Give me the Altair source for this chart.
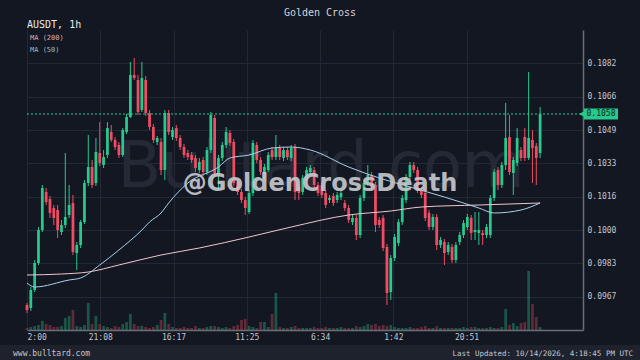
import altair as alt
import pandas as pd

# ---------------- data ----------------
opens = [0.09625, 0.09610, 0.09700, 0.09835, 0.10000, 0.10190, 0.10155, 0.10110, 0.10100, 0.09990,
         0.10025, 0.10075, 0.10135, 0.09885, 0.09925, 0.10040, 0.10235, 0.10315, 0.10235, 0.10385,
         0.10325, 0.10375, 0.10490, 0.10450, 0.10425, 0.10375, 0.10490, 0.10565, 0.10775, 0.10750,
         0.10600, 0.10750, 0.10585, 0.10515, 0.10440, 0.10440, 0.10300, 0.10585, 0.10465, 0.10510,
         0.10460, 0.10415, 0.10385, 0.10375, 0.10360, 0.10300, 0.10350, 0.10290, 0.10400, 0.10560,
         0.10275, 0.10360, 0.10425, 0.10485, 0.10440, 0.10240, 0.10190, 0.10150, 0.10090, 0.10185,
         0.10425, 0.10350, 0.10260, 0.10300, 0.10400, 0.10365, 0.10410, 0.10360, 0.10400, 0.10360,
         0.10415, 0.10215, 0.10190, 0.10250, 0.10290, 0.10300, 0.10225, 0.10225, 0.10185, 0.10150,
         0.10170, 0.10150, 0.10165, 0.10135, 0.10110, 0.10040, 0.10060, 0.09975, 0.10160, 0.10235,
         0.10275, 0.10225, 0.10050, 0.10060, 0.09915, 0.09690, 0.09860, 0.09935, 0.10040, 0.10150,
         0.10265, 0.10325, 0.10300, 0.10200, 0.10185, 0.10085, 0.10015, 0.10065, 0.09925, 0.09940,
         0.09890, 0.09915, 0.09850, 0.09940, 0.09975, 0.10015, 0.10060, 0.09990, 0.09985, 0.09985,
         0.09975, 0.09975, 0.10160, 0.10300, 0.10225, 0.10325, 0.10465, 0.10285, 0.10335, 0.10400,
         0.10465, 0.10360, 0.10450, 0.10420, 0.10385]
highs = [0.09635, 0.09715, 0.09850, 0.10015, 0.10225, 0.10210, 0.10170, 0.10125, 0.10125, 0.10050,
         0.10385, 0.10225, 0.10175, 0.09940, 0.10050, 0.10250, 0.10475, 0.10350, 0.10460, 0.10540,
         0.10400, 0.10540, 0.10525, 0.10465, 0.10440, 0.10510, 0.10580, 0.10840, 0.10860, 0.10775,
         0.10840, 0.10770, 0.10600, 0.10530, 0.10470, 0.10460, 0.10600, 0.10600, 0.10515, 0.10525,
         0.10475, 0.10430, 0.10400, 0.10390, 0.10375, 0.10360, 0.10365, 0.10415, 0.10590, 0.10575,
         0.10375, 0.10440, 0.10515, 0.10500, 0.10455, 0.10255, 0.10205, 0.10165, 0.10200, 0.10450,
         0.10440, 0.10365, 0.10330, 0.10390, 0.10415, 0.10475, 0.10425, 0.10415, 0.10415, 0.10425,
         0.10430, 0.10230, 0.10275, 0.10315, 0.10325, 0.10315, 0.10240, 0.10240, 0.10200, 0.10175,
         0.10185, 0.10190, 0.10200, 0.10150, 0.10125, 0.10075, 0.10075, 0.10175, 0.10250, 0.10325,
         0.10290, 0.10240, 0.10065, 0.10075, 0.09930, 0.09875, 0.09980, 0.10055, 0.10175, 0.10280,
         0.10340, 0.10340, 0.10315, 0.10215, 0.10200, 0.10100, 0.10080, 0.10080, 0.09965, 0.09955,
         0.09940, 0.09930, 0.09940, 0.09990, 0.10050, 0.10080, 0.10075, 0.10090, 0.10090, 0.10000,
         0.10030, 0.10175, 0.10305, 0.10315, 0.10340, 0.10635, 0.10575, 0.10365, 0.10510, 0.10415,
         0.10510, 0.10790, 0.10500, 0.10435, 0.10615]
lows = [0.09585, 0.09595, 0.09690, 0.09825, 0.09990, 0.10125, 0.10060, 0.10025, 0.09960, 0.09975,
        0.10010, 0.10060, 0.09875, 0.09800, 0.09910, 0.10030, 0.10220, 0.10210, 0.10220, 0.10320,
        0.10310, 0.10360, 0.10440, 0.10400, 0.10360, 0.10365, 0.10480, 0.10560, 0.10750, 0.10575,
        0.10590, 0.10570, 0.10500, 0.10435, 0.10425, 0.10275, 0.10250, 0.10475, 0.10450, 0.10445,
        0.10400, 0.10360, 0.10350, 0.10335, 0.10290, 0.10285, 0.10270, 0.10275, 0.10385, 0.10270,
        0.10200, 0.10345, 0.10410, 0.10420, 0.10220, 0.10175, 0.10135, 0.10075, 0.10080, 0.10170,
        0.10335, 0.10275, 0.10250, 0.10290, 0.10350, 0.10350, 0.10350, 0.10345, 0.10350, 0.10345,
        0.10150, 0.10150, 0.10175, 0.10235, 0.10275, 0.10210, 0.10170, 0.10160, 0.10110, 0.10135,
        0.10120, 0.10135, 0.10150, 0.10095, 0.10035, 0.10025, 0.09950, 0.09960, 0.10145, 0.10220,
        0.10200, 0.09990, 0.10010, 0.09895, 0.09625, 0.09650, 0.09845, 0.09920, 0.10025, 0.10135,
        0.10250, 0.10285, 0.10185, 0.10160, 0.10045, 0.10000, 0.10000, 0.09900, 0.09910, 0.09825,
        0.09875, 0.09835, 0.09835, 0.09925, 0.09960, 0.10000, 0.09950, 0.09950, 0.09925, 0.09925,
        0.09960, 0.09960, 0.10145, 0.10200, 0.10210, 0.10300, 0.10275, 0.10175, 0.10320, 0.10345,
        0.10345, 0.10350, 0.10235, 0.10225, 0.10360]
closes = [0.09600, 0.09700, 0.09835, 0.10000, 0.10210, 0.10140, 0.10085, 0.10060, 0.10000, 0.10025,
          0.10065, 0.10125, 0.09890, 0.09925, 0.10040, 0.10235, 0.10315, 0.10225, 0.10390, 0.10335,
          0.10365, 0.10510, 0.10450, 0.10415, 0.10375, 0.10500, 0.10565, 0.10775, 0.10760, 0.10590,
          0.10760, 0.10585, 0.10515, 0.10450, 0.10460, 0.10300, 0.10585, 0.10490, 0.10500, 0.10460,
          0.10415, 0.10375, 0.10365, 0.10350, 0.10310, 0.10340, 0.10290, 0.10400, 0.10575, 0.10285,
          0.10360, 0.10425, 0.10490, 0.10435, 0.10235, 0.10190, 0.10150, 0.10110, 0.10185, 0.10435,
          0.10350, 0.10290, 0.10315, 0.10375, 0.10365, 0.10410, 0.10365, 0.10400, 0.10365, 0.10410,
          0.10190, 0.10185, 0.10260, 0.10300, 0.10310, 0.10225, 0.10185, 0.10175, 0.10125, 0.10160,
          0.10135, 0.10175, 0.10185, 0.10110, 0.10050, 0.10060, 0.09975, 0.10160, 0.10235, 0.10275,
          0.10215, 0.10025, 0.10025, 0.09910, 0.09685, 0.09860, 0.09965, 0.10040, 0.10160, 0.10265,
          0.10325, 0.10300, 0.10200, 0.10175, 0.10060, 0.10015, 0.10065, 0.09925, 0.09950, 0.09885,
          0.09925, 0.09850, 0.09925, 0.09975, 0.10035, 0.10065, 0.09985, 0.10000, 0.10000, 0.09975,
          0.10015, 0.10160, 0.10290, 0.10225, 0.10325, 0.10460, 0.10290, 0.10350, 0.10460, 0.10360,
          0.10360, 0.10460, 0.10410, 0.10360, 0.10580]
volumes = [2000, 3000, 4000, 5000, 9000, 6000, 5000, 3000, 3000, 4000,
           12000, 14000, 20000, 4000, 3000, 5000, 27000, 6000, 14000, 6000,
           4000, 3000, 2000, 4000, 3000, 6000, 8000, 16000, 6000, 4000,
           4000, 3000, 2000, 3000, 5000, 10000, 17000, 6000, 3000, 2000,
           2000, 3000, 2000, 2000, 4000, 2000, 2000, 3000, 4000, 4000,
           3000, 2000, 3000, 2000, 4000, 5000, 10000, 11000, 4000, 3000,
           2000, 8000, 8000, 3000, 16000, 37000, 3000, 2000, 2000, 3000,
           4000, 2000, 2000, 2000, 2000, 3000, 2000, 2000, 3000, 2000,
           2000, 2000, 3000, 2000, 2000, 2000, 4000, 3000, 4000, 6000,
           5000, 6000, 4000, 5000, 4000, 5000, 3000, 2000, 2000, 2000,
           3000, 2000, 2000, 3000, 4000, 2000, 2000, 4000, 2000, 2000,
           2000, 2000, 2000, 2000, 3000, 2000, 3000, 3000, 2000, 2000,
           2000, 3000, 2000, 2000, 3000, 21000, 5000, 7000, 4000, 7000,
           8000, 59000, 26000, 13000, 3000]

ma200_idx = [0, 9, 16, 24, 35, 45, 58, 69, 84, 95, 103, 118, 134]
ma200_val = [0.09775, 0.09780, 0.09790, 0.09825, 0.09875, 0.09910, 0.09965, 0.10015,
             0.10075, 0.10095, 0.10115, 0.10125, 0.10135]
ma50_idx = [0, 2, 11, 14, 19, 24, 30, 32, 35, 37, 42, 50, 53, 58, 64, 69, 74, 84, 92,
            100, 109, 118, 122, 129, 134]
ma50_val = [0.09735, 0.09715, 0.09750, 0.09760, 0.09825, 0.09900, 0.10000, 0.10040, 0.10085,
            0.10135, 0.10235, 0.10315, 0.10360, 0.10375, 0.10410, 0.10415, 0.10400, 0.10315,
            0.10260, 0.10215, 0.10165, 0.10110, 0.10085, 0.10100, 0.10135]

x_tick_pos = [0, 19.1333, 38.2667, 57.4, 76.5333, 95.6667, 114.8]
x_tick_labels = ["2:00", "21:08", "16:17", "11:25", "6:34", "1:42", "20:51"]
y_tick_pos = [0.0966667, 0.0983333, 0.1, 0.1016667, 0.1033333, 0.105, 0.1066667, 0.1083333]
y_tick_labels = ["0.0967", "0.0983", "0.1000", "0.1016", "0.1033", "0.1049", "0.1066", "0.1082"]
last_price = 0.1058

# ---------------- style ----------------
BG = "#131722"
GRID = "#232835"
AXIS = "#6a6e79"
LAB = "#c3c6ce"
GREEN = "#27c98d"
RED = "#ef4d63"
MONO = "DejaVu Sans Mono"

df = pd.DataFrame({"idx": list(range(len(opens))), "open": opens, "high": highs,
                   "low": lows, "close": closes, "vol": volumes})
ma200 = pd.DataFrame({"idx": ma200_idx, "ma": ma200_val})
ma50 = pd.DataFrame({"idx": ma50_idx, "ma": ma50_val})
one = pd.DataFrame({"t": [""]})

xs = alt.Scale(domain=[0, 145.2], nice=False, zero=False)
ys = alt.Scale(domain=[0.095, 0.110], nice=False, zero=False)

x_lab_expr = "[" + ",".join("'%s'" % s for s in x_tick_labels) + "][round(datum.value / 19.1333)]"
y_lab_expr = "[" + ",".join("'%s'" % s for s in y_tick_labels) + "][round((datum.value - 0.095) / 0.0016667) - 1]"

xaxis = alt.Axis(values=x_tick_pos, labelExpr=x_lab_expr, title=None, grid=True,
                 gridColor=GRID, domainColor=AXIS, domainWidth=1.5, ticks=False,
                 labelFont=MONO, labelFontSize=8, labelColor=LAB, labelPadding=3)
yaxis = alt.Axis(orient="right", values=y_tick_pos, labelExpr=y_lab_expr, title=None,
                 grid=True, gridColor=GRID, domainColor=AXIS, domainWidth=1.5, ticks=False,
                 labelFont=MONO, labelFontSize=8, labelColor=LAB, labelPadding=4)


def X(field):
    return alt.X(field, scale=xs, axis=xaxis)


def Y(field):
    return alt.Y(field, scale=ys, axis=yaxis)


color = alt.Color("dir:N", scale=alt.Scale(domain=["up", "down"], range=[GREEN, RED]), legend=None)

base = alt.Chart(df).transform_calculate(
    dir="datum.close >= datum.open ? 'up' : 'down'",
    x0="datum.idx - 0.36",
    x1="datum.idx + 0.36",
)

wicks = base.mark_rule(strokeWidth=1).encode(
    x=X("idx:Q"), y=Y("low:Q"), y2="high:Q", color=color)
bodies = base.mark_rect().encode(
    x=X("x0:Q"), x2="x1:Q", y=Y("open:Q"), y2="close:Q", color=color)
ma200_line = alt.Chart(ma200).mark_line(color="#efc6cf", strokeWidth=1, interpolate="monotone").encode(
    x=X("idx:Q"), y=Y("ma:Q"))
ma50_line = alt.Chart(ma50).mark_line(color="#a8d0ea", strokeWidth=1, interpolate="monotone").encode(
    x=X("idx:Q"), y=Y("ma:Q"))

price_df = pd.DataFrame({"price": [last_price]})
pbase = alt.Chart(price_df).transform_calculate(
    ptxt="format(datum.price, '.4f')",
    phi="datum.price + 0.00028",
    plo="datum.price - 0.00028",
)
price_line = pbase.mark_rule(color=GREEN, strokeWidth=1, strokeDash=[2, 2]).encode(
    y=Y("price:Q"), x=alt.value(0), x2=alt.value(556))
price_box = pbase.mark_rect(color=GREEN).encode(
    y=Y("plo:Q"), y2="phi:Q", x=alt.value(557), x2=alt.value(591))
price_arrow = pbase.mark_point(shape="triangle-left", filled=True, size=45, color=GREEN, opacity=1).encode(
    y=Y("price:Q"), x=alt.value(555))
price_text = pbase.mark_text(font=MONO, fontSize=8, color="#0d1f18", align="center", baseline="middle").encode(
    y=Y("price:Q"), x=alt.value(574), text="ptxt:N")

price_layer = alt.layer(wicks, bodies, ma200_line, ma50_line, price_line, price_box,
                        price_arrow, price_text)

volume = base.mark_rect(opacity=0.35).encode(
    x=X("x0:Q"),
    x2="x1:Q",
    y=alt.Y("vol:Q", scale=alt.Scale(domain=[0, 300000], zero=True, nice=False), axis=None),
    y2=alt.datum(0),
    color=color,
)


def txt(s, x, y, size, col, font=MONO, align="left", weight="normal", opacity=1.0):
    return alt.Chart(pd.DataFrame({"t": [s]})).mark_text(
        font=font, fontSize=size, color=col, align=align, baseline="alphabetic",
        fontWeight=weight, opacity=opacity).encode(text="t:N", x=alt.value(x), y=alt.value(y))


watermark = txt("Bulltard.com", 294, 157, 64, "#242935", font="DejaVu Sans", align="center")
handle = txt("@GoldenCrossDeath", 293, 161, 24, "#c4c6cc", font="DejaVu Sans",
             align="center", weight="bold", opacity=0.92)

footer = alt.Chart(one).mark_rect(color="#1e222d").encode(
    x=alt.value(-27), x2=alt.value(613), y=alt.value(315), y2=alt.value(330))

title = txt("Golden Cross", 293, -14, 10, "#d1d4dc", align="center")
symbol = txt("AUSDT, 1h", 0, -2, 10, "#e8eaef")
leg200 = txt("MA (200)", 3, 10, 7, "#d9aab6")
leg50 = txt("MA (50)", 3, 22, 7, "#8fbbd6")
site = txt("www.bulltard.com", -14, 326, 8, "#c3c6ce")
updated = txt("Last Updated: 10/14/2026, 4:18:45 PM UTC", 606, 326, 7.5, "#c3c6ce", align="right")

chart = alt.layer(
    footer, watermark, volume, price_layer, handle, title, symbol, leg200, leg50, site, updated
).resolve_scale(y="independent").properties(
    width=556, height=300,
    autosize=alt.AutoSizeParams(type="none"),
    padding={"left": 27, "top": 30, "right": 57, "bottom": 30},
    background=BG,
).configure_view(stroke=None)

chart.save("out.html", embed_options={"renderer": "svg", "actions": False})
